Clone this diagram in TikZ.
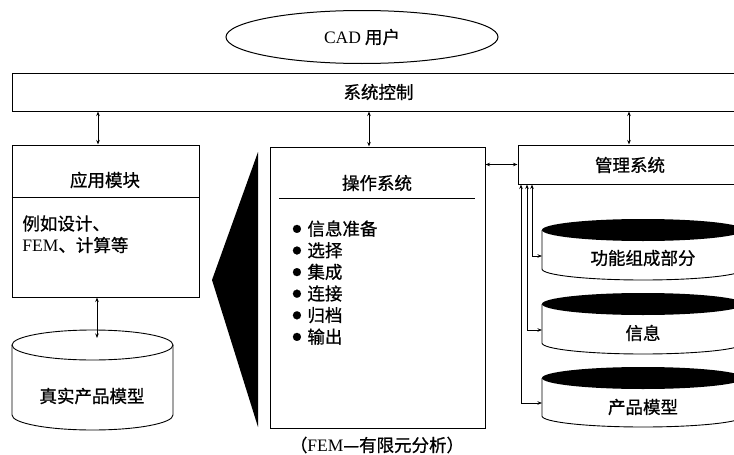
\documentclass[tikz,border=0pt]{standalone}
\usepackage{fontspec}
\setmainfont{Liberation Serif}
\newfontfamily\cjk[FakeBold=0.8]{Noto Sans CJK SC}
\usetikzlibrary{shapes.geometric,arrows.meta}
\tikzset{
  >={Stealth[length=4.5pt,width=3.5pt]},
  boite/.style={draw, line width=1pt},
  puce/.style={anchor=north west, align=left, inner sep=0pt}
}
\newcommand{\pt}{\makebox[15pt][l]{\raisebox{3pt}{\fontsize{9}{9}\selectfont ●}}}
\begin{document}
\begin{tikzpicture}[x=1pt,y=-1pt,line width=0.9pt,font=\cjk\fontsize{17.5}{21.6}\selectfont]
  \useasboundingbox (0,0) rectangle (734,455);
  \node [boite, ellipse, minimum width=272, minimum height=53] (user) at (362,37) {{\rmfamily CAD} 用户};
  \node [boite, minimum width=733, minimum height=38] (ctrl) at (378.5,92) {系统控制};

  \node [boite, minimum width=187, minimum height=152] (app) at (105.5,221) {};
  \node (apptitle) at (105,180) {应用模块};
  \draw (app.west |- 0,197) -- (app.east |- 0,197);
  \node [puce] (apptext) at (22,215) {例如设计、\\{\rmfamily FEM}、计算等};

  \draw [fill=white] (12,345) -- (12,415) arc[start angle=180, end angle=0, x radius=80.5, y radius=15] -- (173,345);
  \draw (92.5,345) ellipse[x radius=80.5, y radius=15];
  \coordinate (realtop) at (97,338);
  \node (real) at (92,396) {真实产品模型};

  \fill (212,280) -- (258,152) -- (258,427) -- cycle;

  \node [boite, minimum width=215, minimum height=281] (ops) at (377.5,287.5) {};
  \node (opstitle) at (377,183) {操作系统};
  \draw (279,198) -- (475,198);
  \node [puce] (steps) at (292,220) {\pt 信息准备\\ \pt 选择\\ \pt 集成\\ \pt 连接\\ \pt 归档\\ \pt 输出};
  \node (note) at (377,445) {（{\rmfamily FEM}—有限元分析）};

  \node [boite, minimum width=227, minimum height=39] (mgmt) at (631.5,164.5) {};
  \node (mgmttitle) at (630,165) {管理系统};

  \draw [fill=white] (542,230) -- (542,269) arc[start angle=180, end angle=0, x radius=101, y radius=11] -- (744,230);
  \fill (643,230) ellipse[x radius=101, y radius=11];
  \node (func) at (643,258) {功能组成部分};
  \coordinate (funcw) at (542,256);

  \draw [fill=white] (542,304) -- (542,343) arc[start angle=180, end angle=0, x radius=101, y radius=11] -- (744,304);
  \fill (643,304) ellipse[x radius=101, y radius=11];
  \node (info) at (643,333) {信息};
  \coordinate (infow) at (542,330);

  \draw [fill=white] (542,378) -- (542,416) arc[start angle=180, end angle=0, x radius=101, y radius=11] -- (744,378);
  \fill (643,378) ellipse[x radius=101, y radius=11];
  \node (model) at (643,407) {产品模型};
  \coordinate (modelw) at (542,403);

  \draw [<->] (ctrl.south -| 98,0) -- (app.north -| 98,0);
  \draw [<->] (ctrl.south -| 369,0) -- (ops.north -| 369,0);
  \draw [<->] (ctrl.south -| 629,0) -- (mgmt.north -| 629,0);
  \draw [<->] (app.south -| realtop) -- (realtop);
  \draw [<->] (ops.east |- mgmt.west) -- (mgmt.west);
  \draw [<->] (mgmt.south -| 532,0) |- (funcw);
  \draw [<->] (mgmt.south -| 527,0) |- (infow);
  \draw [<->] (mgmt.south -| 521,0) |- (modelw);
\end{tikzpicture}
\end{document}
